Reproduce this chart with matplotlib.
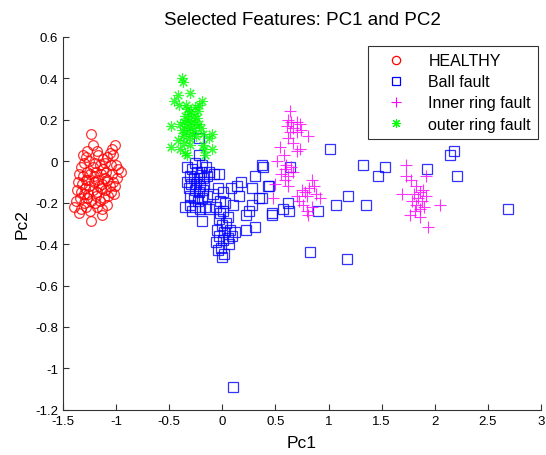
import numpy as np
import matplotlib.pyplot as plt

plt.rcParams['font.family'] = ['Liberation Sans', 'DejaVu Sans']

# HEALTHY (PC1, PC2)
healthy = [
    (-1.23, 0.13), (-1.22, 0.08), (-1.27, 0.05), (-1.31, 0.03), (-1.18, 0.05), (-1.01, 0.08), (-1.04, 0.06), (-1.06, 0.04), (-1.08, 0.02), (-1.03, 0.03),
    (-1.25, 0.00), (-1.30, -0.01), (-1.33, -0.03), (-1.20, -0.01), (-1.15, -0.02), (-1.10, -0.01), (-1.05, -0.02), (-1.12, 0.01), (-1.28, 0.02), (-1.22, -0.03),
    (-1.35, -0.06), (-1.31, -0.07), (-1.27, -0.05), (-1.24, -0.06), (-1.19, -0.05), (-1.14, -0.06), (-1.09, -0.05), (-1.04, -0.06), (-0.98, -0.04), (-0.95, -0.05),
    (-1.36, -0.10), (-1.32, -0.11), (-1.28, -0.09), (-1.25, -0.12), (-1.21, -0.10), (-1.17, -0.09), (-1.13, -0.11), (-1.08, -0.09), (-1.03, -0.10), (-0.99, -0.08),
    (-1.37, -0.14), (-1.33, -0.15), (-1.29, -0.13), (-1.26, -0.16), (-1.22, -0.14), (-1.18, -0.15), (-1.14, -0.13), (-1.10, -0.14), (-1.05, -0.15), (-1.01, -0.12),
    (-1.38, -0.19), (-1.34, -0.18), (-1.30, -0.20), (-1.27, -0.18), (-1.23, -0.19), (-1.19, -0.17), (-1.15, -0.19), (-1.11, -0.18), (-1.07, -0.17), (-1.02, -0.16),
    (-1.39, -0.22), (-1.33, -0.23), (-1.28, -0.22), (-1.24, -0.24), (-1.18, -0.22), (-1.13, -0.23), (-1.08, -0.21), (-1.13, -0.26), (-1.23, -0.29), (-1.35, -0.25),
    (-1.17, 0.03), (-1.12, -0.04), (-1.21, -0.07), (-1.16, -0.12), (-1.26, -0.09), (-1.06, -0.12), (-1.30, -0.16), (-1.20, -0.20), (-1.10, -0.08), (-1.00, -0.02),
]

# Ball fault
ball = [
    (-0.22, 0.11), (-0.22, 0.03), (-0.26, -0.01), (-0.19, -0.02), (-0.15, -0.03), (-0.33, -0.03), (-0.28, -0.04), (-0.24, -0.05), (-0.20, -0.05), (-0.12, -0.05),
    (-0.30, -0.07), (-0.27, -0.08), (-0.22, -0.08), (-0.18, -0.08), (-0.14, -0.07), (-0.08, -0.06), (-0.03, -0.06), (-0.33, -0.10), (-0.29, -0.11), (-0.25, -0.11),
    (-0.21, -0.12), (-0.17, -0.11), (-0.31, -0.13), (-0.26, -0.14), (-0.22, -0.15), (-0.18, -0.14), (-0.30, -0.17), (-0.27, -0.18), (-0.23, -0.19), (-0.19, -0.18),
    (-0.14, -0.17), (-0.09, -0.16), (-0.35, -0.22), (-0.30, -0.21), (-0.26, -0.22), (-0.21, -0.23), (-0.16, -0.22), (-0.12, -0.23), (-0.28, -0.24), (-0.19, -0.29),
    (-0.04, -0.13), (0.01, -0.15), (-0.02, -0.19), (0.03, -0.20), (-0.06, -0.22), (-0.02, -0.25), (0.01, -0.24), (0.05, -0.27), (-0.03, -0.28), (0.00, -0.31),
    (0.04, -0.30), (-0.05, -0.33), (0.02, -0.34), (0.07, -0.33), (-0.03, -0.36), (0.01, -0.38), (0.05, -0.37), (-0.06, -0.39), (0.09, -0.36), (0.12, -0.34),
    (-0.01, -0.42), (-0.04, -0.43), (0.02, -0.45), (0.00, -0.46), (0.06, -0.40),
    (0.08, -0.13), (0.14, -0.12), (0.18, -0.10), (0.28, -0.13), (0.31, -0.07), (0.37, -0.02), (0.43, -0.12), (0.35, -0.18), (0.28, -0.21), (0.22, -0.26),
    (0.25, -0.24), (0.31, -0.32), (0.22, -0.33), (0.47, -0.25), (0.38, -0.03), (0.44, -0.12), (0.37, -0.18), (0.62, -0.20), (0.63, -0.24), (0.57, -0.23),
    (0.47, -0.26), (0.64, -0.03), (0.90, -0.24), (0.10, -0.21), (0.16, -0.17),
    (1.01, 0.06), (1.32, -0.02), (1.47, -0.07), (1.53, -0.03), (1.18, -0.17), (1.07, -0.21), (1.35, -0.21), (1.93, -0.04), (2.21, -0.07), (2.18, 0.05),
    (2.14, 0.03), (2.69, -0.23), (0.83, -0.44), (1.17, -0.47), (0.10, -1.09),
]

# Inner ring fault
inner = [
    (0.64, 0.24), (0.62, 0.20), (0.65, 0.19), (0.70, 0.19), (0.73, 0.18), (0.61, 0.17), (0.67, 0.16), (0.74, 0.15), (0.64, 0.14), (0.70, 0.14),
    (0.81, 0.12), (0.62, 0.11), (0.67, 0.09), (0.54, 0.07), (0.70, 0.05), (0.73, 0.06), (0.58, 0.03), (0.52, 0.00), (0.60, -0.02), (0.65, -0.03),
    (0.59, -0.04), (0.55, -0.06), (0.62, -0.07), (0.59, -0.09), (0.67, -0.05), (0.50, -0.11), (0.62, -0.12), (0.84, -0.09), (0.86, -0.12), (0.82, -0.13),
    (0.78, -0.15), (0.75, -0.14), (0.80, -0.17), (0.92, -0.18), (0.48, -0.18), (0.70, -0.17), (0.76, -0.21), (0.84, -0.22), (0.80, -0.24), (0.81, -0.26),
    (0.72, -0.19), (0.88, -0.16),
    (1.73, -0.02), (1.73, -0.07), (1.92, -0.07), (1.78, -0.09), (1.69, -0.16), (1.89, -0.14), (1.82, -0.12), (1.86, -0.15), (1.80, -0.16), (1.84, -0.18),
    (1.88, -0.19), (1.82, -0.21), (1.79, -0.19), (1.86, -0.23), (1.90, -0.22), (2.05, -0.21), (1.94, -0.32), (1.77, -0.26), (1.86, -0.27), (1.92, -0.17),
    (1.81, -0.24),
]

# outer ring fault
outer = [
    (-0.38, 0.40), (-0.37, 0.38), (-0.42, 0.32), (-0.30, 0.33), (-0.45, 0.29), (-0.19, 0.29), (-0.22, 0.27), (-0.41, 0.27), (-0.26, 0.26), (-0.33, 0.25),
    (-0.29, 0.24), (-0.31, 0.23), (-0.35, 0.22), (-0.27, 0.22), (-0.24, 0.21), (-0.32, 0.20), (-0.36, 0.19), (-0.29, 0.19), (-0.26, 0.18), (-0.22, 0.18),
    (-0.48, 0.17), (-0.40, 0.18), (-0.33, 0.17), (-0.30, 0.16), (-0.38, 0.15), (-0.34, 0.14), (-0.27, 0.15), (-0.20, 0.16), (-0.18, 0.13), (-0.10, 0.13),
    (-0.12, 0.11), (-0.37, 0.12), (-0.31, 0.11), (-0.25, 0.12), (-0.42, 0.10), (-0.36, 0.09), (-0.30, 0.08), (-0.48, 0.07), (-0.40, 0.06), (-0.35, 0.04),
    (-0.18, 0.08), (-0.17, 0.06), (-0.10, 0.06), (-0.33, 0.03), (-0.16, 0.03), (-0.28, 0.13), (-0.23, 0.24), (-0.34, 0.27),
]

# MATLAB-like asterisk: 8 spokes
asterisk = (8, 2, 0)

series = [
    (healthy, 'o', '#ff0000', 'HEALTHY', 7),
    (ball, 's', '#0000ff', 'Ball fault', 7),
    (inner, '+', '#ff00ff', 'Inner ring fault', 8),
    (outer, asterisk, '#00ff00', 'outer ring fault', 7.5),
]

fig = plt.figure(figsize=(5.46, 4.56), dpi=100)
ax = fig.add_axes([0.115, 0.099, 0.876, 0.818])

for pts, mk, col, lab, ms in series:
    arr = np.array(pts)
    if mk in ('o', 's'):
        ax.plot(arr[:, 0], arr[:, 1], linestyle='none', marker=mk, markersize=ms,
                markerfacecolor='none', markeredgecolor=col, markeredgewidth=0.9, alpha=0.8, label=lab)
    else:
        ax.plot(arr[:, 0], arr[:, 1], linestyle='none', marker=mk, markersize=ms,
                color=col, markeredgewidth=0.8, alpha=0.8, label=lab)

ax.set_xlim(-1.5, 3)
ax.set_ylim(-1.2, 0.6)
ax.set_xticks(np.arange(-1.5, 3.01, 0.5))
ax.set_yticks(np.arange(-1.2, 0.61, 0.2))
ax.set_xticklabels(['-1.5', '-1', '-0.5', '0', '0.5', '1', '1.5', '2', '2.5', '3'])
ax.set_yticklabels(['-1.2', '-1', '-0.8', '-0.6', '-0.4', '-0.2', '0', '0.2', '0.4', '0.6'])
ax.tick_params(direction='in', labelsize=9.5, length=4, width=0.8, colors='#333333', labelcolor='black')
ax.spines['top'].set_visible(False)
ax.spines['right'].set_visible(False)
for s in ('left', 'bottom'):
    ax.spines[s].set_color('#333333')

ax.set_title('Selected Features: PC1 and PC2', fontsize=13.5, pad=9)
ax.set_xlabel('Pc1', fontsize=12.5, labelpad=6)
ax.set_ylabel('Pc2', fontsize=12.5, labelpad=4)

leg = ax.legend(loc='upper right', bbox_to_anchor=(1.004, 0.988), fontsize=11.5, frameon=True,
                fancybox=False, edgecolor='black', borderpad=0.45, handlelength=2.5, labelspacing=0.38,
                borderaxespad=0.3, markerscale=0.85)
leg.get_frame().set_linewidth(0.8)
for h in leg.legend_handles:
    h.set_alpha(1)

fig.savefig('out.png', dpi=100)
